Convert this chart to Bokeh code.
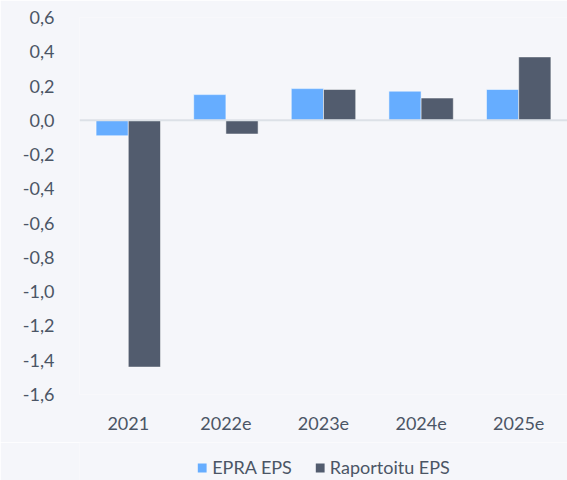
from bokeh.plotting import figure
from bokeh.layouts import column
from bokeh.models import (ColumnDataSource, FactorRange, Range1d, FixedTicker,
                          CustomJSTickFormatter, Span, Legend, LegendItem)
from bokeh.transform import dodge
from bokeh.embed import file_html
from bokeh.resources import INLINE

categories = ["2021", "2022e", "2023e", "2024e", "2025e"]
epra_eps = [-0.09, 0.15, 0.185, 0.17, 0.18]
raportoitu_eps = [-1.44, -0.08, 0.18, 0.13, 0.37]
y_ticks = [-1.6, -1.4, -1.2, -1.0, -0.8, -0.6, -0.4, -0.2, 0.0, 0.2, 0.4, 0.6]
series_names = ["EPRA EPS", "Raportoitu EPS"]
series_colors = ["#66adff", "#525c6e"]

BG = "#f5f6fa"
TXT = "#4b5565"
FONT = "Lato"
FS = "18px"

src = ColumnDataSource(dict(cat=categories, epra=epra_eps, rap=raportoitu_eps))

p = figure(width=567, height=442, output_backend="svg", toolbar_location=None,
           x_range=FactorRange(*categories, range_padding=0),
           y_range=Range1d(-1.6, 0.6),
           background_fill_color=BG, border_fill_color=BG,
           min_border_left=79, min_border_right=0, min_border_top=17,
           min_border_bottom=48)
p.outline_line_color = None
p.xgrid.visible = False
p.ygrid.visible = False

p.vbar(x=dodge("cat", -0.165, range=p.x_range), top="epra", width=0.33,
       source=src, fill_color=series_colors[0], line_color="#ffffff", line_alpha=0.5)
p.vbar(x=dodge("cat", 0.165, range=p.x_range), top="rap", width=0.33,
       source=src, fill_color=series_colors[1], line_color="#ffffff", line_alpha=0.5)

p.add_layout(Span(location=0, dimension="width", line_color="#dce1e7", line_width=2))

p.yaxis.ticker = FixedTicker(ticks=y_ticks)
p.yaxis.formatter = CustomJSTickFormatter(code="return tick.toFixed(1).replace('.', ',');")
for ax in (p.xaxis, p.yaxis):
    ax.axis_line_color = None
    ax.major_tick_line_color = None
    ax.minor_tick_line_color = None
    ax.major_label_text_font = FONT
    ax.major_label_text_font_size = FS
    ax.major_label_text_color = TXT
p.yaxis.major_label_standoff = 19
p.xaxis.major_label_standoff = 16

# legend strip below the chart (swatch renderers sit outside the visible range)
lp = figure(width=567, height=38, output_backend="svg", toolbar_location=None,
            x_range=Range1d(0, 1), y_range=Range1d(0, 1),
            background_fill_color=BG, border_fill_color=BG,
            min_border=0)
lp.outline_line_color = None
lp.axis.visible = False
lp.grid.visible = False
items = []
for name, col in zip(series_names, series_colors):
    r = lp.vbar(x=[10], top=[11], bottom=[10], width=0.1, fill_color=col, line_color=None)
    items.append(LegendItem(label=name, renderers=[r]))
legend = Legend(items=items, orientation="horizontal", location="top_center",
                background_fill_alpha=0, border_line_color=None,
                label_text_font=FONT, label_text_font_size=FS,
                label_text_color=TXT, glyph_width=11, glyph_height=11,
                spacing=22, label_standoff=5, margin=14, padding=2)
lp.add_layout(legend, "center")

layout = column(p, lp, spacing=0)
open("out.html", "w").write(file_html(layout, INLINE))
